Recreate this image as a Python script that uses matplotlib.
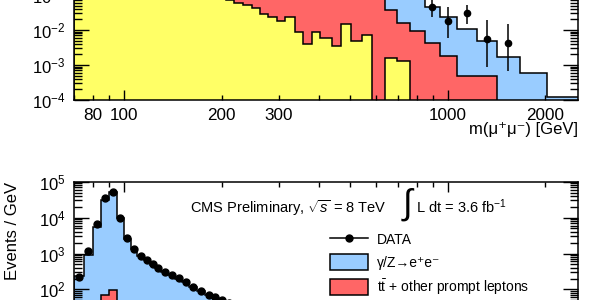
import numpy as np
import matplotlib
matplotlib.use('Agg')
import matplotlib.pyplot as plt
from matplotlib.ticker import FixedLocator, FuncFormatter, LogLocator
from matplotlib.lines import Line2D
from matplotlib.patches import Patch

plt.rcParams['font.family'] = ['Liberation Sans', 'DejaVu Sans']
plt.rcParams['mathtext.fontset'] = 'custom'
plt.rcParams['mathtext.rm'] = 'Liberation Sans'
plt.rcParams['mathtext.it'] = 'Liberation Sans:italic'
plt.rcParams['mathtext.bf'] = 'Liberation Sans:bold'

# colours (ROOT-like)
c_jets = '#ffff66'
c_tt = '#ff6666'
c_dy = '#99ccff'

# ---- upper panel: mu+mu- (stack levels, events / GeV) ----
mu_edges = [70, 120, 170, 206, 218, 233, 248, 263, 278, 297, 314, 337, 357, 380,
            403, 438, 468, 502, 543, 583, 639, 696, 764, 849, 945, 1066, 1229,
            1417, 1668, 2021, 2600]
mu_jets = [20, 1.5, 0.1, 0.07, 0.059, 0.052, 0.0425, 0.0286, 0.0235, 0.0181,
           0.0235, 0.0088, 0.0040, 0.0088, 0.0059, 0.0035, 0.0148, 0.0049, 0.0072,
           0, 0.0016, 0.0013, 0, 0, 0, 0, 0, 0, 0, 0]
mu_tt = [60, 5, 0.8, 0.6, 0.5, 0.45, 0.4, 0.35, 0.3, 0.27, 0.24, 0.21, 0.19, 0.17,
         0.15, 0.13, 0.12, 0.11, 0.1, 0.09, 0.0373, 0.0158, 0.0094, 0.0043, 0.0018,
         0.00049, 0.00049, 0, 0, 0]
mu_dy = [3000, 60, 10, 6, 5, 4, 3.3, 2.7, 2.2, 1.8, 1.5, 1.2, 1.0, 0.8, 0.65, 0.5,
         0.4, 0.32, 0.26, 0.2, 0.15, 0.11, 0.085, 0.045, 0.0235, 0.0107, 0.00485,
         0.00169, 0.00059, 0.000122]
mu_data_bins = [23, 24, 25, 26, 27]
mu_data = [0.045, 0.0185, 0.030, 0.0054, 0.0042]
mu_data_lo = [0.0235, 0.0058, 0.0148, 0.00089, 0.00069]
mu_data_hi = [0.09, 0.0446, 0.0518, 0.0193, 0.0148]

# ---- lower panel: e+e- ----
ee_edges = [70, 75, 80, 85, 90, 95, 100, 105, 110, 115, 120, 125, 130, 137, 144,
            151, 159, 168, 178, 187, 196, 206, 217]
ee_dy = [230, 908, 5590, 31000, 52600, 9550, 2600, 1300, 830, 650, 490, 400, 305,
         250, 200, 160, 118, 90, 70, 58, 48, 40]
ee_tt = [0, 0, 20, 68, 99, 25, 0, 0, 0, 0, 0, 0, 0, 0, 0, 0, 0, 0, 0, 0, 0, 0]
ee_data = [226, 1197, 6500, 34500, 50700, 9550, 2650, 1310, 851, 659, 500, 402,
           311, 252, 204, 164, 119, 92, 70, 60, 50, 41]

x_major = [100, 1000]
x_minor = [70, 80, 90, 200, 300, 400, 500, 600, 700, 800, 900, 2000]
x_minor_labels = [80, 200, 300, 2000]

fig = plt.figure(figsize=(6, 3), dpi=100)
L, W = 73.8 / 600, 504.2 / 600
ax1 = fig.add_axes([L, 200 / 300, W, 6 * 35 / 300])
top2 = (300 - 181.7) / 300
ax2 = fig.add_axes([L, top2 - 6 * 35.9 / 300, W, 6 * 35.9 / 300])


def stack(ax, edges, vals, color, base):
    ax.stairs(vals, edges, fill=True, color=color, baseline=base, lw=0)
    ax.stairs(vals, edges, fill=False, color='black', baseline=base, lw=1.1)


def ylabels(lo, hi):
    # only label the decades that are in the shown part of the panel
    def f(v, p):
        if lo <= v <= hi:
            return r'$\mathdefault{10^{%d}}$' % round(np.log10(v))
        return ''
    return FuncFormatter(f)


def style(ax, ylo, yhi):
    ax.set_xscale('log')
    ax.set_yscale('log')
    ax.set_xlim(70, 2520)
    ax.xaxis.set_major_locator(FixedLocator(x_major))
    ax.xaxis.set_minor_locator(FixedLocator(x_minor))
    ax.xaxis.set_major_formatter(FuncFormatter(lambda v, p: f'{v:g}'))
    ax.xaxis.set_minor_formatter(FuncFormatter(
        lambda v, p: f'{v:g}' if round(v) in x_minor_labels else ''))
    ax.yaxis.set_major_locator(LogLocator(base=10, numticks=20))
    ax.yaxis.set_minor_locator(LogLocator(base=10, subs=np.arange(2, 10), numticks=20))
    ax.yaxis.set_major_formatter(ylabels(ylo, yhi))
    ax.tick_params(which='both', direction='in', top=True, right=True, width=1.0)
    ax.tick_params(axis='x', which='major', length=7.2, pad=5.5, labelsize=12.3)
    ax.tick_params(axis='x', which='minor', length=3.6, pad=5.5, labelsize=12.3)
    ax.tick_params(axis='y', which='major', length=10.8, pad=6, labelsize=12)
    ax.tick_params(axis='y', which='minor', length=5.8)
    for s in ax.spines.values():
        s.set_linewidth(1.1)


# upper panel
stack(ax1, mu_edges, mu_dy, c_dy, 1e-6)
stack(ax1, mu_edges, mu_tt, c_tt, 1e-6)
stack(ax1, mu_edges, mu_jets, c_jets, 1e-6)
e = np.array(mu_edges, dtype=float)
xc = np.sqrt(e[:-1] * e[1:])[mu_data_bins]
yd = np.array(mu_data)
ax1.errorbar(xc, yd, yerr=[yd - np.array(mu_data_lo), np.array(mu_data_hi) - yd],
             fmt='o', color='black', ms=4.5, elinewidth=1.1, capsize=0)
style(ax1, 1e-4, 0.1)
ax1.set_ylim(1e-4, 1e2)
ax1.set_xlabel('m(μ⁺μ⁻) [GeV]', loc='right', fontsize=12)
ax1.xaxis.set_label_coords(1.0, -0.105)

# lower panel
stack(ax2, ee_edges, ee_dy, c_dy, 1e-3)
stack(ax2, ee_edges, ee_tt, c_tt, 1e-3)
e2 = np.array(ee_edges, dtype=float)
ax2.plot(np.sqrt(e2[:-1] * e2[1:]), ee_data, 'o', color='black', ms=5)
style(ax2, 100, 1e5)
ax2.tick_params(axis='x', which='both', labelbottom=False)
ax2.set_ylim(1e-1, 1e5)
ax2.set_ylabel('Events / GeV', loc='top', fontsize=12)
ax2.yaxis.set_label_coords(-0.107, 1.0)

fig.text(190 / 600, (300 - 213.3) / 300, r'CMS Preliminary, $\sqrt{s}$ = 8 TeV',
         fontsize=10.5, va='baseline')
fig.text(407 / 600, (300 - 204.5) / 300, '∫', fontsize=25, ha='center', va='center')
fig.text(416 / 600, (300 - 213.3) / 300, r'L dt = 3.6 fb$^{-1}$',
         fontsize=10.5, va='baseline')

handles = [Line2D([], [], color='black', marker='o', ms=5, lw=1.1),
           Patch(facecolor=c_dy, edgecolor='black', lw=1.1),
           Patch(facecolor=c_tt, edgecolor='black', lw=1.1)]
labels = ['DATA', 'γ/Z→e⁺e⁻', r'$\mathrm{t\bar{t}}$ + other prompt leptons']
fig.legend(handles, labels, loc='upper left',
           bbox_to_anchor=(330 / 600, (300 - 231.5) / 300), frameon=False,
           fontsize=10, handlelength=2.73, handleheight=1.37, labelspacing=0.5,
           handletextpad=0.65, borderpad=0, borderaxespad=0)

fig.savefig('out.png', dpi=100)
